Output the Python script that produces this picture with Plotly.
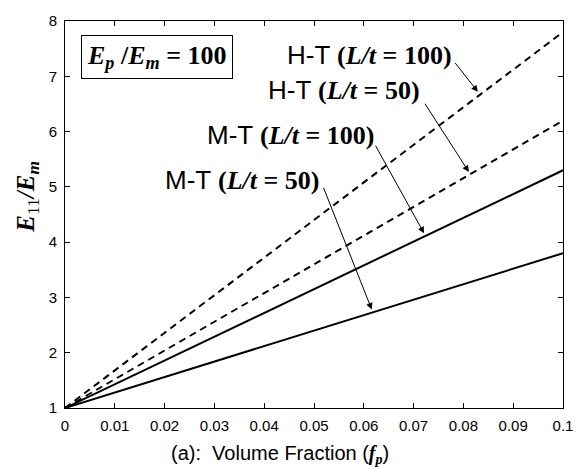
import plotly.graph_objects as go

fp = [0, 0.01, 0.02, 0.03, 0.04, 0.05, 0.06, 0.07, 0.08, 0.09, 0.1]
ht_100 = [1.00, 1.68, 2.36, 3.04, 3.72, 4.40, 5.08, 5.76, 6.44, 7.12, 7.80]
ht_50 = [1.00, 1.52, 2.04, 2.56, 3.08, 3.60, 4.12, 4.64, 5.16, 5.68, 6.20]
mt_100 = [1.00, 1.43, 1.86, 2.29, 2.72, 3.15, 3.58, 4.01, 4.44, 4.87, 5.30]
mt_50 = [1.00, 1.28, 1.56, 1.84, 2.12, 2.40, 2.68, 2.96, 3.24, 3.52, 3.80]

x_ticks = [0, 0.01, 0.02, 0.03, 0.04, 0.05, 0.06, 0.07, 0.08, 0.09, 0.1]
x_ticktext = ["0", "0.01", "0.02", "0.03", "0.04", "0.05", "0.06", "0.07", "0.08", "0.09", "0.1"]
y_ticks = [1, 2, 3, 4, 5, 6, 7, 8]

SANS = "Liberation Sans, Arial, sans-serif"
SERIF = "Liberation Serif"

fig = go.Figure()
for ys, dash in [(ht_100, "7px,5px"), (ht_50, "7px,5px"), (mt_100, "solid"), (mt_50, "solid")]:
    fig.add_trace(go.Scatter(x=fp, y=ys, mode="lines",
                             line=dict(color="black", width=2, dash=dash),
                             showlegend=False, hoverinfo="skip"))

def lbl(prefix, val):
    return (f"{prefix} <span style=\"font-family:{SERIF}\"><b>(<i>L/t</i> = {val})</b></span>")

labels = [
    # text, x, y, arrow tail (x,y), arrow head (x,y)
    (lbl("H-T", 100), 0.0612, 7.38, (0.0781, 7.27), (0.0829, 6.72)),
    (lbl("H-T", 50), 0.0560, 6.76, (0.0721, 6.53), (0.0811, 5.27)),
    (lbl("M-T", 100), 0.0452, 5.93, (0.0622, 5.77), (0.0721, 4.16)),
    (lbl("M-T", 50), 0.0355, 5.13, (0.0518, 5.01), (0.0616, 2.78)),
]

annotations = []
for text, tx, ty, tail, head in labels:
    annotations.append(dict(x=tx, y=ty, xref="x", yref="y", text=text, showarrow=False,
                            xanchor="center", yanchor="middle",
                            font=dict(family=SANS, size=26, color="black")))
    annotations.append(dict(x=head[0], y=head[1], xref="x", yref="y",
                            ax=tail[0], ay=tail[1], axref="x", ayref="y",
                            text="", showarrow=True, arrowhead=2, arrowsize=1.3,
                            arrowwidth=1, arrowcolor="black"))

annotations.append(dict(x=0.0185, y=7.34, xref="x", yref="y",
                        text="<b><i>E<sub>p</sub></i> /<i>E<sub>m</sub></i> = 100</b>",
                        showarrow=False, bordercolor="black", borderwidth=1, borderpad=5,
                        bgcolor="white", xanchor="center", yanchor="middle",
                        font=dict(family=SERIF, size=26, color="black")))

annotations.append(dict(x=282, y=469 - 455, xref="paper", yref="paper", showarrow=False,
                        xanchor="center", yanchor="middle",
                        text="(a):  Volume Fraction (<span style=\"font-family:Liberation Serif\"><b><i>f<sub>p</sub></i></b></span>)",
                        font=dict(family=SANS, size=20, color="black")))

annotations.append(dict(x=27, y=469 - 192, xref="paper", yref="paper", showarrow=False,
                        textangle=-90, xanchor="center", yanchor="middle",
                        text="<b><i>E</i></b><sub>11</sub><b><i>/E<sub>m</sub></i></b>",
                        font=dict(family=SERIF, size=25, color="black")))

# convert pixel-based paper annotations
L, R, T, B = 65, 18, 13, 61
W, H = 585, 469
pw, ph = W - L - R, H - T - B
for a in annotations[-2:]:
    a["x"] = (a["x"] - L) / pw
    a["y"] = (a["y"] - B) / ph

fig.update_layout(
    width=W, height=H,
    margin=dict(l=L, r=R, t=T, b=B),
    paper_bgcolor="white", plot_bgcolor="white",
    font=dict(family=SANS, size=15, color="black"),
    annotations=annotations,
    xaxis=dict(range=[0, 0.1], tickvals=x_ticks, ticktext=x_ticktext,
               showgrid=False, zeroline=False, showline=True, linecolor="black",
               linewidth=1, mirror="allticks", ticks="inside", ticklen=5,
               tickcolor="black", ticklabelstandoff=4,
               tickfont=dict(family=SANS, size=15, color="black")),
    yaxis=dict(range=[1, 8], tickvals=y_ticks,
               showgrid=False, zeroline=False, showline=True, linecolor="black",
               linewidth=1, mirror="allticks", ticks="inside", ticklen=5,
               tickcolor="black", ticklabelstandoff=4,
               tickfont=dict(family=SANS, size=15, color="black")),
)

fig.write_html("out.html", config={"displayModeBar": False},
               post_script="document.body.style.margin='0';")
